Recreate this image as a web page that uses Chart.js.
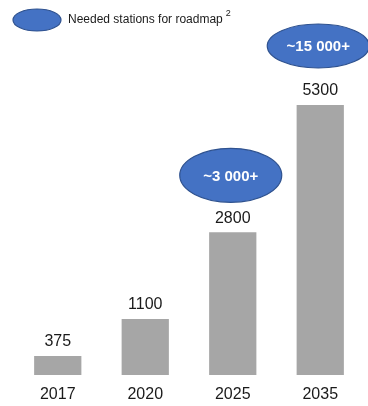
<!DOCTYPE html>
<html>
<head>
<meta charset="utf-8">
<script src="https://cdn.jsdelivr.net/npm/chart.js@4"></script>
<style>
  html, body { margin: 0; padding: 0; background: #fff; }
  #wrap { width: 368px; height: 406px; position: relative; }
</style>
</head>
<body>
<div id="wrap"><canvas id="chart"></canvas></div>
<script>
const years = ["2017", "2020", "2025", "2035"];
const stations = [375, 1100, 2800, 5300];
const roadmap = [null, null, "~3 000+", "~15 000+"];
const legendText = "Needed stations for roadmap";

const blue = '#4472C4';
const blueEdge = '#2F528F';
const font = '"Liberation Sans", Arial, sans-serif';

// ellipse helper
function ellipse(ctx, x, y, rx, ry) {
    ctx.beginPath();
    ctx.ellipse(x, y, rx, ry, 0, 0, Math.PI * 2);
    ctx.fillStyle = blue;
    ctx.fill();
    ctx.lineWidth = 1.2;
    ctx.strokeStyle = blueEdge;
    ctx.stroke();
}

const labelsPlugin = {
    id: 'labels',
    afterDatasetsDraw(chart) {
        const ctx = chart.ctx;
        const meta = chart.getDatasetMeta(0);
        ctx.save();
        ctx.textAlign = 'center';
        ctx.textBaseline = 'middle';
        meta.data.forEach((bar, i) => {
            ctx.fillStyle = '#1a1a1a';
            ctx.font = '16px ' + font;
            ctx.fillText(String(stations[i]), bar.x, bar.y - 14);
            if (roadmap[i]) {
                const cy = bar.y - (i === 3 ? 59 : 57);
                const ry = i === 3 ? 22 : 27;
                ellipse(ctx, bar.x - 2, cy, 51, ry);
                ctx.fillStyle = '#fff';
                ctx.font = 'bold 15px ' + font;
                ctx.fillText(roadmap[i], bar.x - 2, cy + 1);
            }
        });

        // legend
        ellipse(ctx, 37, 20, 24, 11);
        ctx.textAlign = 'left';
        ctx.fillStyle = '#1a1a1a';
        ctx.font = '12px ' + font;
        ctx.fillText(legendText, 68, 20);
        const w = ctx.measureText(legendText).width;
        ctx.font = '9px ' + font;
        ctx.fillText('2', 68 + w + 3, 14);
        ctx.restore();
    }
};

new Chart(document.getElementById('chart'), {
    type: 'bar',
    data: {
        labels: years,
        datasets: [{
            data: stations,
            backgroundColor: '#A6A6A6',
            borderWidth: 0,
            barPercentage: 0.54,
            categoryPercentage: 1
        }]
    },
    options: {
        responsive: true,
        maintainAspectRatio: false,
        animation: false,
        layout: { padding: { top: 10, left: 14, right: 4, bottom: 0 } },
        plugins: {
            legend: { display: false },
            tooltip: { enabled: false }
        },
        scales: {
            y: { display: false, min: 0, max: 7165 },
            x: {
                grid: { display: false, drawTicks: false },
                border: { display: false },
                afterFit(scale) { scale.height = 31; },
                ticks: {
                    padding: 10,
                    color: '#1a1a1a',
                    font: { size: 16, family: font }
                }
            }
        }
    },
    plugins: [labelsPlugin]
});
</script>
</body>
</html>
